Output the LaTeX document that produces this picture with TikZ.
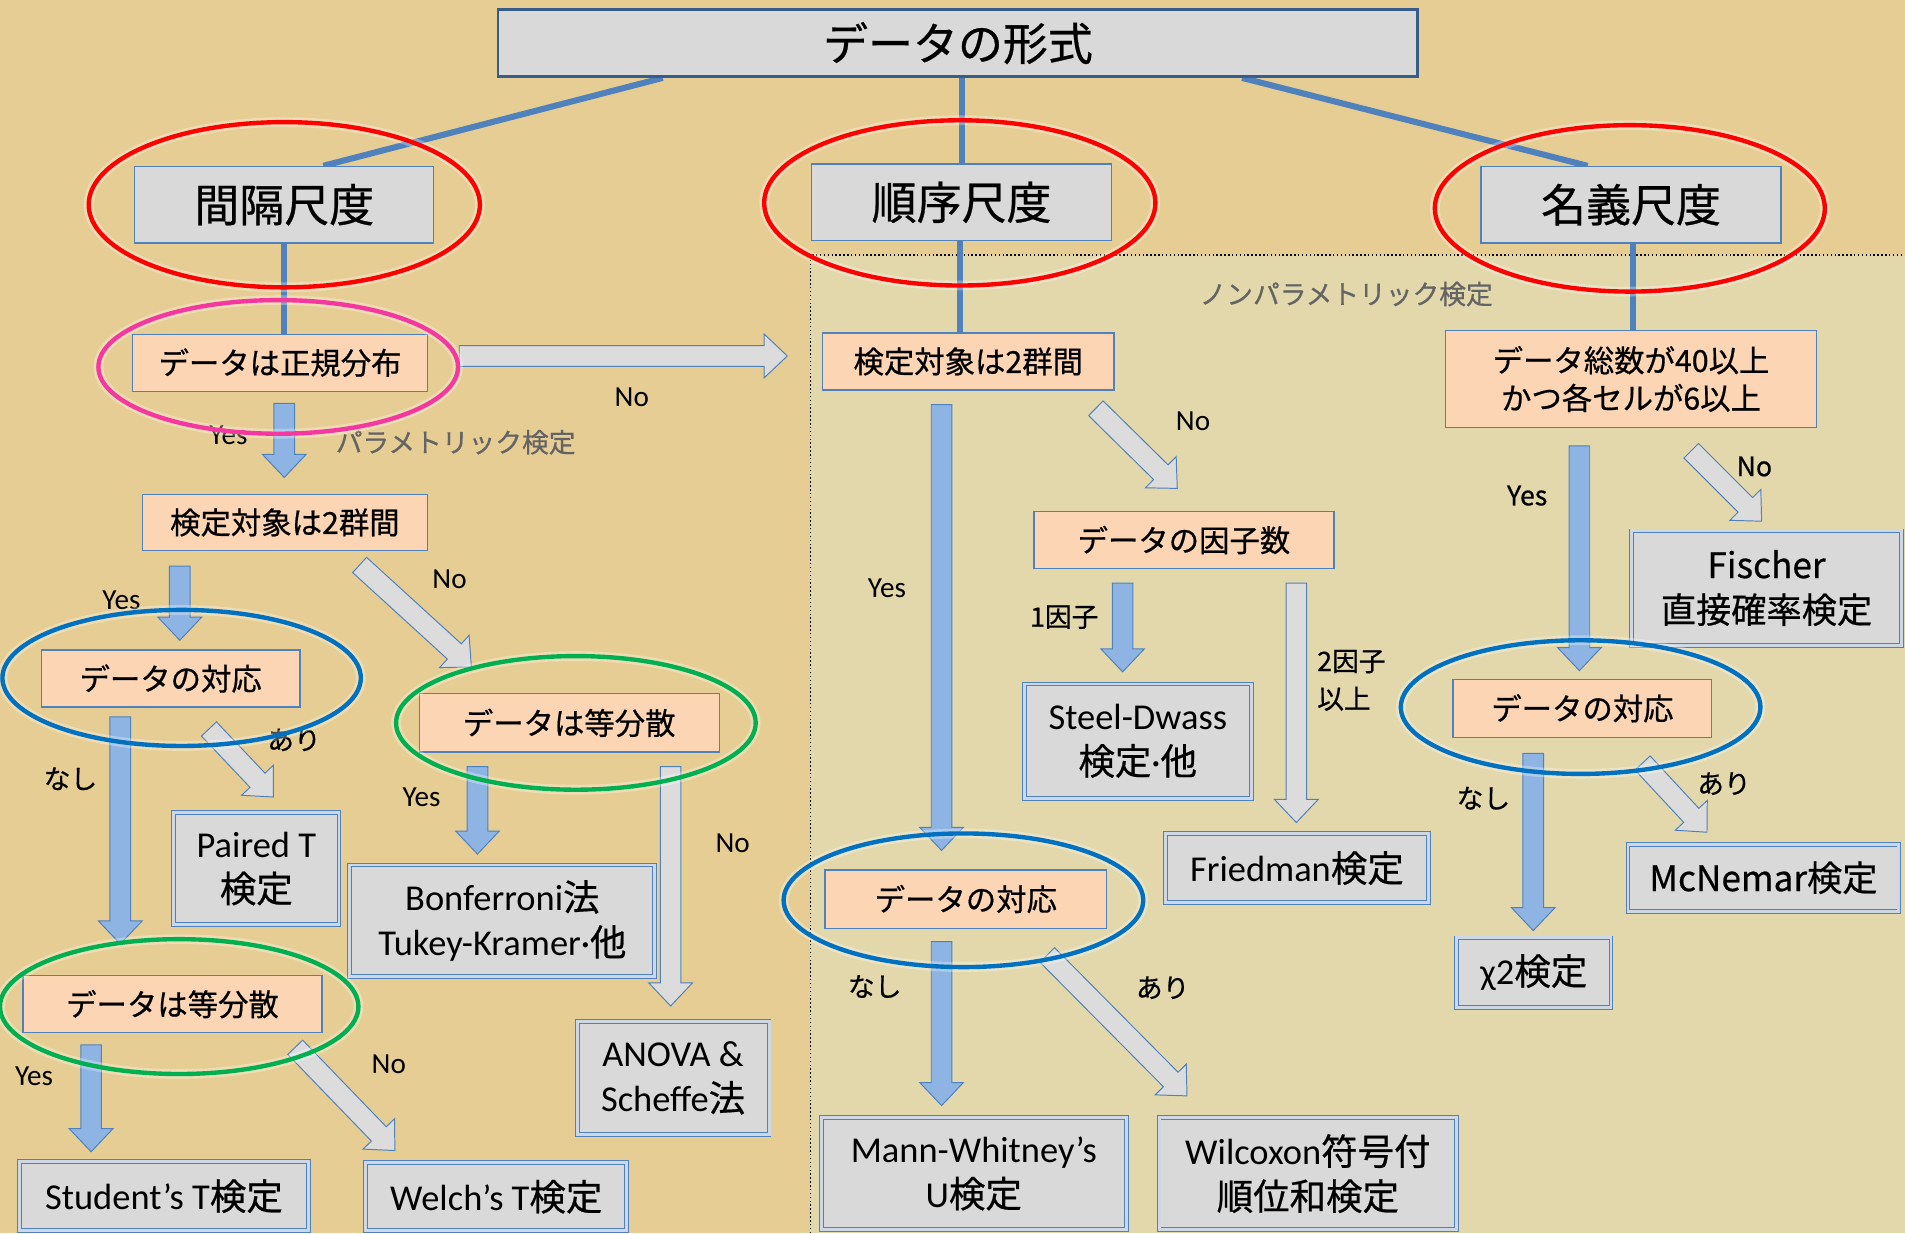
\documentclass[tikz,border=0pt]{standalone}
\usepackage{fontspec}
\setmainfont{Carlito}
\newfontfamily\jpf{Noto Sans CJK JP}[FakeBold=0.6]
\newcommand\J[1]{{\jpf #1}}
\usetikzlibrary{calc}
\pgfdeclarelayer{paper}
\pgfdeclarelayer{links}
\pgfsetlayers{paper,links,main}
\definecolor{bgc}{RGB}{230,205,148}
\definecolor{npc}{RGB}{226,216,172}
\definecolor{boxgray}{RGB}{217,217,217}
\definecolor{ofill}{RGB}{252,213,180}
\definecolor{boxline}{RGB}{79,129,189}
\definecolor{topline}{RGB}{56,93,138}
\definecolor{dgap}{RGB}{205,215,230}
\definecolor{bafill}{RGB}{141,180,226}
\definecolor{gafill}{RGB}{220,220,220}
\definecolor{aline}{RGB}{79,129,189}
\definecolor{rred}{RGB}{255,0,0}
\definecolor{rpink}{RGB}{245,55,160}
\definecolor{rgreen}{RGB}{0,176,80}
\definecolor{rblue}{RGB}{0,112,192}
\definecolor{gtxt}{RGB}{100,100,100}
\newcommand\barrow[3]{%
  \coordinate (bC) at ($(#3)!19pt!(#2)$);
  \draw[#1] ($(#2)!8.5pt!90:(#3)$) -- ($(bC)!8.5pt!-90:(#2)$) -- ($(bC)!18pt!-90:(#2)$) -- (#3)
    -- ($(bC)!18pt!90:(#2)$) -- ($(bC)!8.5pt!90:(#2)$) -- ($(#2)!8.5pt!-90:(#3)$) -- cycle;}
\newcommand\ringat[4]{%
  \draw[glow] (#2) ellipse [x radius=#3pt,y radius=#4pt];
  \draw[ring,draw=#1] (#2) ellipse [x radius=#3pt,y radius=#4pt];}
\begin{document}
\begin{tikzpicture}[x=1pt,y=-1pt,
 sz/.style n args={2}{minimum width=#1pt,minimum height=#2pt},
 tbox/.style={draw=topline,line width=2.2pt,fill=boxgray,inner sep=0pt,font=\fontsize{37}{44}\selectfont\jpf},
 sbox/.style={draw=boxline,line width=1pt,fill=boxgray,inner sep=0pt,font=\fontsize{37}{44}\selectfont\jpf},
 obox/.style={draw=boxline,line width=1pt,fill=ofill,inner sep=0pt,align=center,font=\fontsize{25}{31}\selectfont\jpf},
 rbox/.style={draw=boxline,line width=0.8pt,double=dgap,double distance=2.4pt,fill=boxgray,inner sep=0pt,align=center,font=\fontsize{30}{37}\selectfont},
 lbl/.style={inner sep=0pt,font=\fontsize{24}{28}\selectfont},
 jlbl/.style={inner sep=0pt,align=left,font=\fontsize{22}{31}\selectfont\jpf},
 glbl/.style={inner sep=0pt,text=gtxt,font=\fontsize{22}{28}\selectfont\jpf},
 conn/.style={draw=boxline,line width=5pt},
 barr/.style={fill=bafill,draw=aline,line width=0.8pt},
 garr/.style={fill=gafill,draw=aline,line width=0.8pt},
 ring/.style={line width=3.6pt},
 glow/.style={draw=white,line width=8pt,opacity=0.3}
]
\useasboundingbox (0,0) rectangle (1568,1015);
% background
\begin{pgfonlayer}{paper}
\fill[bgc] (0,0) rectangle (1568,1015);
\fill[npc] (667,210) rectangle (1568,1015);
\draw[dotted,line width=1.2pt] (667,1015) -- (667,210) -- (1568,210);
\end{pgfonlayer}
\node[glbl] (gNon) at (1108,242) {ノンパラメトリック検定};
\node[glbl] (gPar) at (375,364) {パラメトリック検定};

% nodes
\node[tbox,sz={757}{55}] (top) at (788.5,35.5) {データの形式};
\node[sbox,sz={246}{63}] (kan) at (234,168.5) {間隔尺度};
\node[sbox,sz={247}{63}] (jun) at (791.5,166.5) {順序尺度};
\node[sbox,sz={247}{63}] (mei) at (1342.5,168.5) {名義尺度};

\node[obox,sz={243}{47}] (norm) at (230.5,298.5) {データは正規分布};
\node[obox,sz={235}{46}] (two1) at (234.5,430) {検定対象は2群間};
\node[obox,sz={213}{47}] (pair1) at (140.5,558.5) {データの対応};
\node[obox,sz={247}{48}] (var1) at (468.5,595) {データは等分散};
\node[obox,sz={246}{47}] (var2) at (142,826.5) {データは等分散};
\node[obox,sz={240}{47}] (two2) at (797,297.5) {検定対象は2群間};
\node[obox,sz={247}{47}] (fac) at (974.5,444.5) {データの因子数};
\node[obox,sz={232}{48}] (pair2) at (795,740) {データの対応};
\node[obox,sz={305}{80}] (cnt) at (1342.5,312) {データ総数が40以上\\かつ各セルが6以上};
\node[obox,sz={213}{48}] (pair3) at (1302.5,583) {データの対応};

\node[rbox,sz={136}{92}] (pt) at (211,715) {Paired T\\\J{検定}};
\node[rbox,sz={251}{92}] (bon) at (413.5,758) {Bonferroni\J{法}\\Tukey-Kramer·\J{他}};
\node[rbox,sz={158}{93}] (ano) at (554,887.5) {ANOVA \&\\Scheffe\J{法}};
\node[rbox,sz={238}{57}] (stu) at (135,984.5) {Student’s T\J{検定}};
\node[rbox,sz={215}{56}] (wel) at (408.5,985) {Welch’s T\J{検定}};
\node[rbox,sz={187}{94}] (ste) at (936.5,610) {Steel-Dwass\\\J{検定}·\J{他}};
\node[rbox,sz={217}{57}] (fri) at (1067.5,714.5) {Friedman\J{検定}};
\node[rbox,sz={251}{92}] (man) at (801.5,966) {Mann-Whitney’s\\U\J{検定}};
\node[rbox,sz={245}{92}] (wil) at (1076.5,966) {Wilcoxon\J{符号付}\\\J{順位和検定}};
\node[rbox,sz={222}{94},font=\fontsize{29}{37}\selectfont\jpf] (fis) at (1454,484) {Fischer\\直接確率検定};
\node[rbox,sz={223}{55},font=\fontsize{29}{37}\selectfont\jpf] (mcn) at (1451.5,722.5) {McNemar検定};
\node[rbox,sz={127}{57}] (chi) at (1262.5,800.5) {χ2\J{検定}};

% tree connectors (under the boxes)
\begin{pgfonlayer}{links}
\draw[conn] ($(top.south west)!0.18!(top.south east)$) -- ($(kan.north west)!0.63!(kan.north east)$);
\draw[conn] (top.south -| jun.north) -- (jun.north);
\draw[conn] ($(top.south west)!0.808!(top.south east)$) -- ($(mei.north west)!0.356!(mei.north east)$);
\draw[conn] (kan.south) -- (kan.south |- norm.north);
\draw[conn] ([xshift=-1.5pt]jun.south) -- ([xshift=-1.5pt]jun.south |- two2.north);
\draw[conn] ([xshift=1.5pt]mei.south) -- ([xshift=1.5pt]cnt.north);
\end{pgfonlayer}

% block arrows
\coordinate (s1) at (378,293);   \coordinate (t1) at (648,293);
\coordinate (s2) at (234,332);   \coordinate (t2) at (234,393);
\coordinate (s3) at (148,466);   \coordinate (t3) at (148,527);
\coordinate (s4) at (296,465);   \coordinate (t4) at (388,549);
\coordinate (s5) at (99,590);    \coordinate (t5) at (99,777);
\coordinate (s6) at (172,600);   \coordinate (t6) at (225,656);
\coordinate (s7) at (393,631);   \coordinate (t7) at (393,703);
\coordinate (s8) at (552,631);   \coordinate (t8) at (552,828);
\coordinate (s9) at (75,860);    \coordinate (t9) at (75,948);
\coordinate (s10) at (243,862);  \coordinate (t10) at (325,947);
\coordinate (s11) at (775,333);  \coordinate (t11) at (775,700);
\coordinate (s12) at (902,336);  \coordinate (t12) at (969,402);
\coordinate (s13) at (924,480);  \coordinate (t13) at (924,553);
\coordinate (s14) at (1067,480); \coordinate (t14) at (1067,677);
\coordinate (s15) at (775,775);  \coordinate (t15) at (775,910);
\coordinate (s16) at (862,786);  \coordinate (t16) at (977,902);
\coordinate (s17) at (1300,367); \coordinate (t17) at (1300,552);
\coordinate (s18) at (1392,371); \coordinate (t18) at (1450,429);
\coordinate (s19) at (1262,620); \coordinate (t19) at (1262,766);
\coordinate (s20) at (1352,628); \coordinate (t20) at (1405,685);
\barrow{garr}{s1}{t1}
\barrow{barr}{s2}{t2}
\barrow{barr}{s3}{t3}
\barrow{garr}{s4}{t4}
\barrow{barr}{s5}{t5}
\barrow{garr}{s6}{t6}
\barrow{barr}{s7}{t7}
\barrow{garr}{s8}{t8}
\barrow{barr}{s9}{t9}
\barrow{garr}{s10}{t10}
\barrow{barr}{s11}{t11}
\barrow{garr}{s12}{t12}
\barrow{barr}{s13}{t13}
\barrow{garr}{s14}{t14}
\barrow{barr}{s15}{t15}
\barrow{garr}{s16}{t16}
\barrow{barr}{s17}{t17}
\barrow{garr}{s18}{t18}
\barrow{barr}{s19}{t19}
\barrow{garr}{s20}{t20}

% labels
\node[lbl] (lNo1) at (520,327) {No};
\node[lbl] (lY1) at (188,358) {Yes};
\node[lbl] (lY2) at (100,494) {Yes};
\node[lbl] (lN2) at (370,477) {No};
\node[jlbl] (lNa1) at (58,641) {なし};
\node[jlbl] (lAr1) at (242,609) {あり};
\node[lbl] (lY3) at (347,656) {Yes};
\node[lbl] (lN3) at (603,694) {No};
\node[lbl] (lY4) at (28,886) {Yes};
\node[lbl] (lN4) at (320,876) {No};
\node[lbl] (lY5) at (730,484) {Yes};
\node[lbl] (lN5) at (982,347) {No};
\node[jlbl] (l1f) at (876,508) {1因子};
\node[jlbl,anchor=west] (l2f) at (1084,560) {2因子\\以上};
\node[jlbl] (lNa2) at (720,812) {なし};
\node[jlbl] (lAr2) at (957,813) {あり};
\node[jlbl] (lY6) at (1257,408) {Yes};
\node[jlbl] (lN6) at (1444,384) {No};
\node[jlbl] (lNa3) at (1221,657) {なし};
\node[jlbl] (lAr3) at (1419,645) {あり};

% rings
\ringat{rred}{kan.center}{161}{68}
\ringat{rred}{$(jun.center)+(-1.5,0.5)$}{161}{68}
\ringat{rred}{$(mei.center)+(-1,3)$}{160.5}{68.5}
\ringat{rpink}{$(norm.center)+(-1.5,3.5)$}{148}{55}
\ringat{rblue}{$(pair1.center)+(9,-0.5)$}{147.5}{56}
\ringat{rgreen}{$(var1.center)+(5.5,0)$}{148}{55}
\ringat{rgreen}{$(var2.center)+(5.5,2)$}{147.5}{55.5}
\ringat{rblue}{$(pair2.center)+(-2,1)$}{148}{55}
\ringat{rblue}{$(pair3.center)+(-1.5,-1)$}{148}{55}
\end{tikzpicture}
\end{document}
